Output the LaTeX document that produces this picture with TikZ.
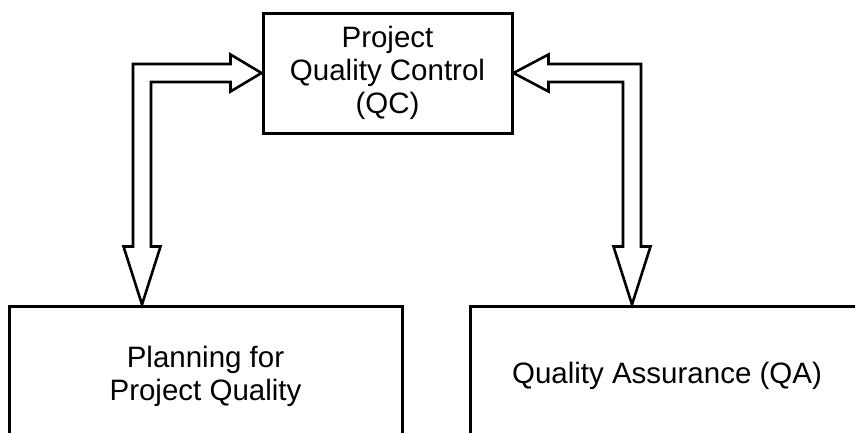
\documentclass[tikz,border=0pt]{standalone}
\usepackage{fontspec}
\setmainfont{Liberation Sans}
\usetikzlibrary{calc}
\begin{document}
\begin{tikzpicture}[x=1pt,y=-1pt,
  box/.style={draw=black,line width=3pt,align=center,inner sep=0pt,
    font=\fontsize{29.5}{33}\selectfont},
  hollow/.style={draw=black,line width=2.6pt,line join=miter,fill=white}]
\useasboundingbox (0,0) rectangle (855,432);
\clip (0,0) rectangle (855,432);

% boxes
\node[box,minimum width=249pt,minimum height=120pt] (qc) at (387.5,73)
  {Project\\Quality Control\\(QC)};
\node[box,minimum width=393pt,minimum height=140pt] (plan) at (205.5,376)
  {Planning for\\Project Quality};
\node[box,minimum width=394pt,minimum height=140pt] (qa) at (667,376)
  {Quality Assurance (QA)};

% tips of the double-headed hollow arrows
\coordinate (lt) at (qc.west);
\coordinate (ld) at ($(plan.north west)+(134.5,0)$);
\coordinate (rt) at (qc.east);
\coordinate (rd) at ($(qa.north west)+(163.5,0)$);

% QC <-> planning
\draw[hollow] (lt) -- ++(-31,-18.5) -- ++(0,9.5)
  -- ($(ld|-lt)+(-9,-9)$) -- ($(ld)+(-9,-58)$) -- ++(-9.5,0)
  -- (ld) -- ++(18.5,-58) -- ++(-9.5,0)
  -- ($(ld|-lt)+(9,9)$) -- ($(lt)+(-31,9)$) -- ++(0,9.5) -- cycle;

% QC <-> assurance
\draw[hollow] (rt) -- ++(35,-18.5) -- ++(0,9.5)
  -- ($(rd|-rt)+(9,-9)$) -- ($(rd)+(9,-58)$) -- ++(9.5,0)
  -- (rd) -- ++(-18.5,-58) -- ++(9.5,0)
  -- ($(rd|-rt)+(-9,9)$) -- ($(rt)+(35,9)$) -- ++(0,9.5) -- cycle;
\end{tikzpicture}
\end{document}
